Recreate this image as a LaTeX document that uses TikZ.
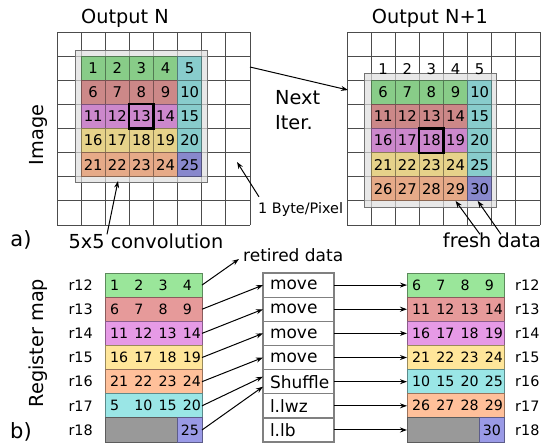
\documentclass[tikz,border=0pt]{standalone}
\usepackage{fontspec}
\setmainfont{DejaVu Sans}
\usetikzlibrary{arrows.meta,positioning}

\definecolor{gG}{HTML}{88CC88}
\definecolor{gR}{HTML}{CC8888}
\definecolor{gM}{HTML}{CC88CC}
\definecolor{gY}{HTML}{E6D28A}
\definecolor{gO}{HTML}{E6AA88}
\definecolor{gC}{HTML}{88CCCC}
\definecolor{gB}{HTML}{8888CC}
\definecolor{rG}{HTML}{9AE69A}
\definecolor{rR}{HTML}{E69A9A}
\definecolor{rM}{HTML}{E69AE6}
\definecolor{rY}{HTML}{FFE69A}
\definecolor{rO}{HTML}{FFC09A}
\definecolor{rC}{HTML}{9AE6E6}
\definecolor{rB}{HTML}{9A9AE6}
\definecolor{rK}{HTML}{999999}

\def\cs{24.125}
\newcommand{\regrow}[4]{\hspace*{4pt}\makebox[24.25pt][l]{#1}\makebox[24.25pt][l]{#2}\makebox[24.25pt][l]{#3}\makebox[18pt][l]{#4}}

\tikzstyle{lbl} = [inner sep=0pt, font=\fontsize{19.3}{25}\selectfont]
\tikzstyle{small} = [inner sep=0pt, font=\fontsize{14.4}{16}\selectfont]
\tikzstyle{cell} = [rectangle, inner sep=0pt, outer sep=0pt, minimum size=\cs pt,
    line width=0.8pt, font=\fontsize{14.8}{16}\selectfont]
\tikzstyle{reg} = [rectangle, inner sep=0pt, outer sep=0pt, minimum width=97pt,
    minimum height=24.15pt, line width=1pt, font=\fontsize{14.2}{16}\selectfont]
\tikzstyle{regcell} = [rectangle, inner sep=0pt, outer sep=0pt, minimum width=24.25pt,
    minimum height=24.15pt, line width=1pt, font=\fontsize{14.2}{16}\selectfont]
\tikzstyle{op} = [rectangle, draw=black!50, line width=1.2pt, inner sep=0pt, outer sep=0pt,
    minimum width=71pt, minimum height=24.15pt, text width=57pt, align=left,
    font=\fontsize{17}{18}\selectfont]
\tikzstyle{gridline} = [black!70, line width=0.8pt]
\tikzstyle{margin} = [draw=black!55, fill=black!13, fill opacity=0.7, line width=0.8pt]
\tikzstyle{hilite} = [black, line width=2.2pt]
\tikzstyle{arr} = [-{Stealth[length=7pt,width=5pt]}, line width=1pt]

\begin{document}
\begin{tikzpicture}[x=1pt,y=-1pt]
  \useasboundingbox (0,0) rectangle (542,448);

  \begin{scope}[shift={(57,32)}]
    \foreach \i in {0,...,8} {
      \draw[gridline] (\i*\cs,0) -- (\i*\cs,8*\cs);
      \draw[gridline] (0,\i*\cs) -- (8*\cs,\i*\cs);
    }
    \draw[margin] (\cs-6,\cs-6) rectangle (6*\cs+6,6*\cs+6);
    \foreach \r/\col in {0/gG,1/gR,2/gM,3/gY,4/gO}
      \foreach \c in {0,...,3} {
        \pgfmathtruncatemacro{\n}{5*\r+\c+1}
        \node[cell, fill=\col, draw=\col!60!black] (a\n) at ({(\c+1.5)*\cs},{(\r+1.5)*\cs}) {\n};
      }
    \foreach \r/\col in {0/gC,1/gC,2/gC,3/gC,4/gB} {
      \pgfmathtruncatemacro{\n}{5*\r+5}
      \node[cell, fill=\col, draw=\col!60!black] (a\n) at ({5.5*\cs},{(\r+1.5)*\cs}) {\n};
    }
    \draw[hilite] (a13.north west) rectangle (a13.south east);
  \end{scope}

  \begin{scope}[shift={(347,32)}]
    \foreach \i in {0,...,8} {
      \draw[gridline] (\i*\cs,0) -- (\i*\cs,8*\cs);
      \draw[gridline] (0,\i*\cs) -- (8*\cs,\i*\cs);
    }
    \draw[margin] (\cs-7,2*\cs-7) rectangle (6*\cs+5,7*\cs+7);
    \foreach \r/\col in {0/gG,1/gR,2/gM,3/gY,4/gO}
      \foreach \c in {0,...,3} {
        \pgfmathtruncatemacro{\n}{5*\r+\c+6}
        \node[cell, fill=\col, draw=\col!60!black] (b\n) at ({(\c+1.5)*\cs},{(\r+2.5)*\cs}) {\n};
      }
    \foreach \r/\col in {0/gC,1/gC,2/gC,3/gC,4/gB} {
      \pgfmathtruncatemacro{\n}{5*\r+10}
      \node[cell, fill=\col, draw=\col!60!black] (b\n) at ({5.5*\cs},{(\r+2.5)*\cs}) {\n};
    }
    \foreach \c in {1,...,5}
      \node[cell] (h\c) at ({(\c+0.5)*\cs},{1.55*\cs}) {\c};
    \draw[hilite] (b18.north west) rectangle (b18.south east);
  \end{scope}

  \node[lbl] (outN) at (125,18) {Output N};
  \node[lbl] (outN1) at (430,18) {Output N+1};
  \node[lbl, rotate=90] (image) at (38,135) {Image};
  \node[lbl, align=left, anchor=west] (next) at (275,110) {Next\\Iter.};
  \node[small, anchor=west] (bytes) at (258,210) {1 Byte/Pixel};
  \node[lbl] (conv) at (146,241) {5x5 convolution};
  \node[lbl] (fresh) at (492,240) {fresh data};
  \node[lbl, font=\fontsize{21}{24}\selectfont] (pa) at (21,240) {a)};

  \coordinate (leftEdge) at (250,67);
  \coordinate (rightEdge) at (348,90);
  \coordinate (pixel) at (237,162);
  \coordinate (convIn) at (118,181);

  \draw[arr] (leftEdge) -- (rightEdge);
  \draw[arr] ([xshift=1pt,yshift=6pt]bytes.north west) -- (pixel);
  \draw[arr] ([xshift=-39pt,yshift=-1pt]conv.north) -- (convIn);
  \draw[arr] ([xshift=-12pt,yshift=-2pt]fresh.north) -- (b29.south);
  \draw[arr] ([xshift=9pt,yshift=-2pt]fresh.north) -- ([xshift=-2pt]b30.south);

  \node[reg, fill=rG, draw=rG!60!black, anchor=north west] (L12) at (105,273) {\regrow{1}{2}{3}{4}};
  \node[reg, fill=rR, draw=rR!60!black, below=0pt of L12] (L13) {\regrow{6}{7}{8}{9}};
  \node[reg, fill=rM, draw=rM!60!black, below=0pt of L13] (L14) {\regrow{11}{12}{13}{14}};
  \node[reg, fill=rY, draw=rY!60!black, below=0pt of L14] (L15) {\regrow{16}{17}{18}{19}};
  \node[reg, fill=rO, draw=rO!60!black, below=0pt of L15] (L16) {\regrow{21}{22}{23}{24}};
  \node[reg, fill=rC, draw=rC!60!black, below=0pt of L16] (L17) {\regrow{5}{10}{15}{20}};
  \node[reg, fill=rK, draw=rK!60!black, below=0pt of L17] (L18) {};
  \node[regcell, fill=rB, draw=rB!60!black, anchor=north east] (L18b) at (L18.north east) {25};

  \node[op, anchor=north west] (mv1) at (263,273) {move};
  \node[op, below=0pt of mv1] (mv2) {move};
  \node[op, below=0pt of mv2] (mv3) {move};
  \node[op, below=0pt of mv3] (mv4) {move};
  \node[op, below=0pt of mv4] (shuf) {Shuffle};
  \node[op, below=0pt of shuf] (lwz) {l.lwz};
  \node[op, below=0pt of lwz] (lb) {l.lb};

  \node[reg, fill=rG, draw=rG!60!black, anchor=north west] (R12) at (407,273) {\regrow{6}{7}{8}{9}};
  \node[reg, fill=rR, draw=rR!60!black, below=0pt of R12] (R13) {\regrow{11}{12}{13}{14}};
  \node[reg, fill=rM, draw=rM!60!black, below=0pt of R13] (R14) {\regrow{16}{17}{18}{19}};
  \node[reg, fill=rY, draw=rY!60!black, below=0pt of R14] (R15) {\regrow{21}{22}{23}{24}};
  \node[reg, fill=rC, draw=rC!60!black, below=0pt of R15] (R16) {\regrow{10}{15}{20}{25}};
  \node[reg, fill=rO, draw=rO!60!black, below=0pt of R16] (R17) {\regrow{26}{27}{28}{29}};
  \node[reg, fill=rK, draw=rK!60!black, below=0pt of R17] (R18) {};
  \node[regcell, fill=rB, draw=rB!60!black, anchor=north east] (R18b) at (R18.north east) {30};

  \foreach \k in {12,...,18} {
    \node[small, left=12pt of L\k] (ll\k) {r\k};
    \node[small, right=11pt of R\k] (rr\k) {r\k};
  }

  \node[lbl, font=\fontsize{17}{18}\selectfont, anchor=west] (retired) at (243,255) {retired data};
  \node[lbl, rotate=90] (regmap) at (38,343) {Register map};
  \node[lbl, font=\fontsize{21}{24}\selectfont] (pb) at (21,432) {b)};

  \draw[arr] (L12.east) -- ([shift={(-4pt,-4pt)}]retired.west);
  \foreach \a/\b in {13/1,14/2,15/3,16/4}
    \draw[arr] (L\a.east) -- (mv\b.west);
  \draw[arr] (L17.east) -- ([yshift=5pt]shuf.west);
  \draw[arr] (L18.east) -- ([yshift=-5pt]shuf.west);
  \foreach \a/\b in {mv1/R12,mv2/R13,mv3/R14,mv4/R15,shuf/R16,lwz/R17,lb/R18}
    \draw[arr] (\a.east) -- (\b.west);
\end{tikzpicture}
\end{document}
